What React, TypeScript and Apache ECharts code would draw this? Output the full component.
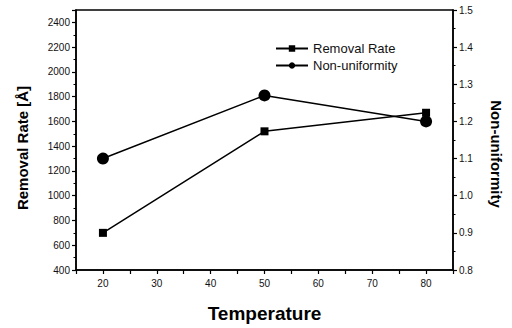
import React, { useEffect, useRef } from "react";
import * as echarts from "echarts";

const temperatures = [20, 50, 80];
const removalRate = [700, 1520, 1670];
const nonUniformity = [1.1, 1.27, 1.2];

const FONT = "'Liberation Sans', Arial, Helvetica, sans-serif";

export default function App() {
  const ref = useRef<HTMLDivElement>(null);
  useEffect(() => {
    if (!ref.current) return;
    const chart = echarts.init(ref.current, undefined, { renderer: "svg" });
    const axisLine = { show: true, lineStyle: { color: "#000", width: 1.5 } };
    chart.setOption({
      animation: false,
      backgroundColor: "#fff",
      textStyle: { fontFamily: FONT },
      grid: {
        left: 76,
        right: 59,
        top: 10,
        bottom: 56,
        show: true,
        borderColor: "#000",
        borderWidth: 1.5,
      },
      legend: {
        orient: "vertical",
        left: 270,
        top: 37,
        itemWidth: 32,
        itemHeight: 8,
        itemGap: 4,
        textStyle: { fontSize: 13, color: "#111", fontFamily: FONT },
        data: ["Removal Rate", "Non-uniformity"],
      },
      xAxis: {
        type: "value",
        min: 15,
        max: 85,
        interval: 5,
        name: "Temperature",
        nameLocation: "middle",
        nameGap: 34,
        nameTextStyle: { fontSize: 19, fontWeight: "bold", color: "#000", fontFamily: FONT },
        axisLine,
        axisTick: { show: true, length: 4, lineStyle: { color: "#000", width: 1.2 } },
        axisLabel: {
          fontSize: 10,
          color: "#111",
          fontFamily: FONT,
          margin: 8,
          formatter: (v: number) => (v % 10 === 0 ? String(v) : ""),
        },
        splitLine: { show: false },
      },
      yAxis: [
        {
          type: "value",
          min: 400,
          max: 2500,
          interval: 200,
          position: "left",
          name: "Removal Rate [Å]",
          nameLocation: "middle",
          nameGap: 46,
          nameTextStyle: {
            fontSize: 15,
            fontWeight: "bold",
            color: "#000",
            fontFamily: FONT,
            padding: [0, 16, 0, 0],
          },
          axisLine,
          axisTick: { show: true, length: 4, lineStyle: { color: "#000", width: 1.2 } },
          minorTick: { show: true, splitNumber: 2, length: 2.5, lineStyle: { color: "#000", width: 1 } },
          axisLabel: {
            fontSize: 10,
            color: "#111",
            fontFamily: FONT,
            margin: 6,
            showMaxLabel: false,
            formatter: (v: number) => (v > 2400 ? "" : String(Math.round(v))),
          },
          splitLine: { show: false },
        },
        {
          type: "value",
          min: 0.8,
          max: 1.5,
          interval: 0.1,
          position: "right",
          name: "Non-uniformity",
          nameLocation: "middle",
          nameGap: 36,
          nameRotate: -90,
          nameTextStyle: {
            fontSize: 15,
            fontWeight: "bold",
            color: "#000",
            fontFamily: FONT,
            padding: [0, 0, 0, 28],
          },
          axisLine,
          axisTick: { show: true, length: 4, lineStyle: { color: "#000", width: 1.2 } },
          minorTick: { show: true, splitNumber: 2, length: 2.5, lineStyle: { color: "#000", width: 1 } },
          axisLabel: {
            fontSize: 10,
            color: "#111",
            fontFamily: FONT,
            margin: 6,
            formatter: (v: number) => v.toFixed(1),
          },
          splitLine: { show: false },
        },
      ],
      series: [
        {
          name: "Removal Rate",
          type: "line",
          yAxisIndex: 0,
          data: temperatures.map((t, i) => [t, removalRate[i]]),
          symbol: "rect",
          symbolSize: 8,
          itemStyle: { color: "#000" },
          lineStyle: { color: "#000", width: 1.5 },
        },
        {
          name: "Non-uniformity",
          type: "line",
          yAxisIndex: 1,
          data: temperatures.map((t, i) => [t, nonUniformity[i]]),
          symbol: "circle",
          symbolSize: 12,
          itemStyle: { color: "#000" },
          lineStyle: { color: "#000", width: 1.5 },
        },
      ],
    });
    return () => chart.dispose();
  }, []);
  return (
    <div
      ref={ref}
      style={{ position: "fixed", left: 0, top: 0, width: 512, height: 328, background: "#fff" }}
    />
  );
}
